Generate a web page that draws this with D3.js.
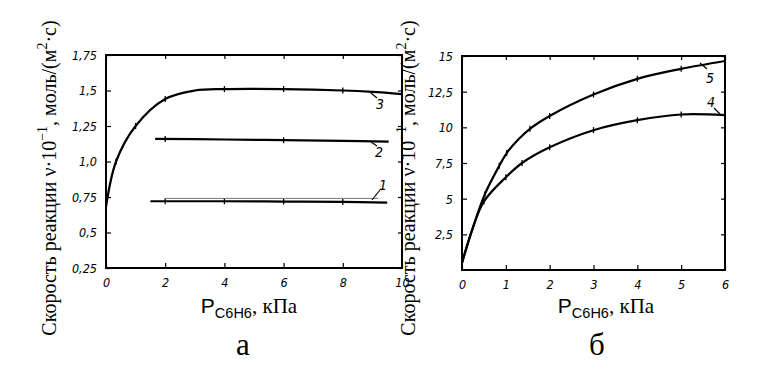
<!DOCTYPE html>
<html><head><meta charset="utf-8">
<script src="https://cdn.jsdelivr.net/npm/d3@7"></script>
<style>body{margin:0;background:#fff}svg{display:block}
.serif{font-family:"Liberation Serif","Times New Roman",Times,"DejaVu Serif",serif}
.tick text,.tk{font-family:"Liberation Sans Narrow","DejaVu Sans Condensed",sans-serif;font-style:italic}
</style>
</head><body>
<svg id="c" width="764" height="377"></svg>
<script>
// ---- data: panel a ----
const aXTicks = [0, 2, 4, 6, 8, 10];
const aXTickLabels = ["0", "2", "4", "6", "8", "10"];
const aYTicks = [0.25, 0.5, 0.75, 1.0, 1.25, 1.5, 1.75];
const aYTickLabels = ["0,25", "0,5", "0,75", "1,0", "1,25", "1,5", "1,75"];
const s3x = [0, 0.34, 1.0, 2.0, 3, 4, 6, 8, 9, 10];
const s3y = [0.68, 1.0, 1.25, 1.44, 1.5, 1.51, 1.51, 1.5, 1.49, 1.475];
const s3marks = [0.34, 1, 2, 4, 6, 8];
const s2x = [1.66, 4, 6, 8, 9.55];
const s2y = [1.16, 1.155, 1.15, 1.145, 1.14];
const s2marks = [2, 6];
const s1x = [1.5, 4, 6, 8, 9.5];
const s1y = [0.72, 0.72, 0.718, 0.715, 0.71];
const s1marks = [2, 4, 6, 8];
const s1bx = [2.0, 9.2];
const s1by = [0.74, 0.74];
// ---- data: panel б ----
const bXTicks = [0, 1, 2, 3, 4, 5, 6];
const bXTickLabels = ["0", "1", "2", "3", "4", "5", "6"];
const bYTicks = [2.5, 5, 7.5, 10, 12.5, 15];
const bYTickLabels = ["2,5", "5", "7,5", "10", "12,5", "15"];
const s5x = [0, 0.23, 0.52, 0.85, 1.02, 1.3, 1.55, 2, 3, 4, 5, 6];
const s5y = [0.5, 2.8, 5.3, 7.3, 8.2, 9.2, 9.9, 10.8, 12.3, 13.4, 14.1, 14.65];
const s5marks = [0.52, 0.85, 1.02, 1.55, 2, 3, 4, 5];
const s4x = [0, 0.23, 0.5, 1.0, 1.37, 2, 3, 4, 5, 6];
const s4y = [0.5, 2.8, 4.8, 6.5, 7.5, 8.6, 9.8, 10.5, 10.9, 10.85];
const s4marks = [0.5, 1.0, 1.37, 2, 3, 4, 5];

const svg = d3.select("#c");

function zip(xs, ys) { return xs.map((x, i) => [x, ys[i]]); }
function interpAt(xs, ys, x) {
  for (let i = 0; i < xs.length - 1; i++) {
    if (x >= xs[i] && x <= xs[i + 1]) {
      const t = (x - xs[i]) / (xs[i + 1] - xs[i]);
      return ys[i] + t * (ys[i + 1] - ys[i]);
    }
  }
  return ys[ys.length - 1];
}

function panel(cfg) {
  const g = svg.append("g");
  const x = d3.scaleLinear().domain(cfg.xd).range([cfg.l, cfg.r]);
  const y = d3.scaleLinear().domain(cfg.yd).range([cfg.b, cfg.t]);
  const ax = g.append("g");
  const bottom = d3.axisBottom(x).tickValues(cfg.xt).tickSize(-5).tickFormat((d, i) => cfg.xl[i]).tickPadding(10);
  const top = d3.axisTop(x).tickValues(cfg.xt).tickSize(-4).tickFormat("");
  const left = d3.axisLeft(y).tickValues(cfg.yt).tickSize(-5).tickFormat((d, i) => cfg.yl[i]).tickPadding(9);
  const right = d3.axisRight(y).tickValues(cfg.yt).tickSize(-4).tickFormat("");
  const gb = ax.append("g").attr("transform", `translate(0,${cfg.b})`).call(bottom);
  const gt = ax.append("g").attr("transform", `translate(0,${cfg.t})`).call(top);
  const gl = ax.append("g").attr("transform", `translate(${cfg.l},0)`).call(left);
  const gr = ax.append("g").attr("transform", `translate(${cfg.r},0)`).call(right);
  [gb, gt, gl, gr].forEach(a => {
    a.attr("font-family", null).attr("font-size", null);
    a.select(".domain").remove();
    a.selectAll(".tick line").attr("stroke", "#000").attr("stroke-width", 1.2);
    a.selectAll("text").attr("font-size", 12.5).attr("fill", "#000");
  });
  gl.selectAll("text").attr("dy", "0.35em");
  g.append("rect").attr("x", cfg.l).attr("y", cfg.t).attr("width", cfg.r - cfg.l)
    .attr("height", cfg.b - cfg.t).attr("fill", "none").attr("stroke", "#000").attr("stroke-width", 2);
  const line = d3.line().x(d => x(d[0])).y(d => y(d[1])).curve(d3.curveCatmullRom.alpha(0.5));
  cfg.series.forEach(s => {
    g.append("path").datum(zip(s.x, s.y)).attr("d", line).attr("fill", "none")
      .attr("stroke", s.color || "#000").attr("stroke-width", s.w || 2.2);
    (s.marks || []).forEach(m => {
      const px = x(m), py = y(interpAt(s.x, s.y, m));
      g.append("line").attr("x1", px).attr("x2", px).attr("y1", py - 3).attr("y2", py + 3)
        .attr("stroke", "#000").attr("stroke-width", 1.3);
    });
  });
  cfg.labels.forEach(lb => {
    g.append("line").attr("x1", lb.lx1).attr("y1", lb.ly1).attr("x2", lb.lx2).attr("y2", lb.ly2)
      .attr("stroke", "#000").attr("stroke-width", 1.2);
    g.append("text").attr("class", "tk").attr("x", lb.tx).attr("y", lb.ty).text(lb.text)
      .attr("font-size", 14).attr("fill", "#000");
  });
  const yt = svg.append("text").attr("class", "serif")
    .attr("transform", `translate(${cfg.ytx},${cfg.yty}) rotate(-90)`)
    .attr("text-anchor", "middle").attr("font-size", 20).attr("fill", "#000");
  yt.append("tspan").text("Скорость реакции ν·10");
  yt.append("tspan").attr("dy", -9).attr("font-size", 14).text("−1");
  yt.append("tspan").attr("dy", 9).text(", моль/(м");
  yt.append("tspan").attr("dy", -9).attr("font-size", 14).text("2");
  yt.append("tspan").attr("dy", 9).text("·с)");
  const xt = svg.append("text").attr("class", "serif").attr("x", cfg.xtx).attr("y", 313).attr("text-anchor", "middle")
    .attr("font-size", 21).attr("fill", "#000");
  xt.append("tspan").style("font-family", "'Liberation Sans', Arial, sans-serif").attr("font-size", 21).text("P");
  xt.append("tspan").attr("dy", 5).style("font-family", "'Liberation Sans', Arial, sans-serif").attr("font-size", 14.5).text(cfg.sub);
  xt.append("tspan").attr("dy", -5).text(", кПа");
  svg.append("text").attr("class", "serif").attr("x", cfg.lettx).attr("y", 355).attr("text-anchor", "middle")
    .attr("font-size", 31).attr("fill", "#000").text(cfg.letter);
}

panel({
  xd: [0, 10], yd: [0.25, 1.75], l: 106, r: 402, t: 55, b: 268,
  xt: aXTicks, xl: aXTickLabels, yt: aYTicks, yl: aYTickLabels,
  series: [
    { x: s3x, y: s3y, marks: s3marks },
    { x: s2x, y: s2y, marks: s2marks },
    { x: s1x, y: s1y, marks: s1marks },
    { x: s1bx, y: s1by, w: 0.8, color: "#555" }
  ],
  labels: [
    { text: "3", tx: 376, ty: 109, lx1: 371, ly1: 93, lx2: 377, ly2: 98 },
    { text: "2", tx: 375, ty: 157, lx1: 371, ly1: 142, lx2: 377, ly2: 146 },
    { text: "1", tx: 379, ty: 190, lx1: 372, ly1: 200, lx2: 380, ly2: 190 }
  ],
  ytx: 56, yty: 178, xtx: 249, sub: "C6H6", letter: "а", lettx: 243
});

panel({
  xd: [0, 6], yd: [0, 15], l: 462, r: 725, t: 56, b: 270,
  xt: bXTicks, xl: bXTickLabels, yt: bYTicks, yl: bYTickLabels,
  series: [
    { x: s5x, y: s5y, marks: s5marks },
    { x: s4x, y: s4y, marks: s4marks }
  ],
  labels: [
    { text: "5", tx: 706, ty: 83, lx1: 700, ly1: 63, lx2: 707, ly2: 69 },
    { text: "4", tx: 707, ty: 107, lx1: 714, ly1: 108, lx2: 720, ly2: 114 }
  ],
  ytx: 415, yty: 178, xtx: 606, sub: "C6H6", letter: "б", lettx: 597
});
</script>
</body></html>
